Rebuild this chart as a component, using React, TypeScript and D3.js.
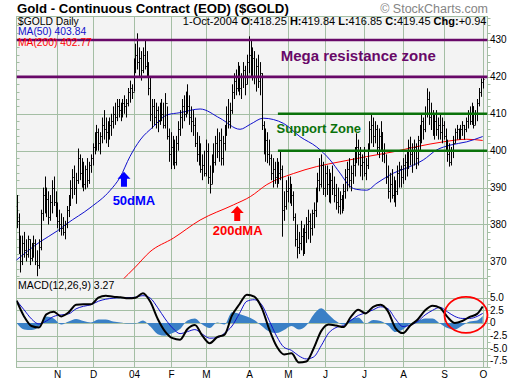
import React from 'react';
import * as d3 from 'd3';

// ---- data ----
const hi = [
  388,383,377,377,378,376,377,376,375,377,
  376,373,376,384,390,393,390,389,388,392,
  393,389,386,384,383,382,381,385,388,392,
  395,396,394,400.6,399,398,397,396,398,397,
  399,402,405,407,406,405,409,411,409,408,
  409,410,412,413,414,414,413,414,415,414,
  417,419,418,425,429,431.8,428,427,428,430,
  427,424,420,414,414,413,412,413,414,413,
  415.6,412,406,405,404,403,404,408,411,414,
  415,416,418,415,412,411,409,405,404,402,
  399,400,403,402,396,399,402,404,406,405,
  406,404,407,412,414,413,418,421,422,424,
  423,421,424,423,426,431,430,428,427,425,
  426,424,421,408,406,405,403,399,398,397,
  398,397,400,396,389,392,393,393,391,389,
  383,380,378,381,379,380,382,384,383,384,
  386,390,394,398,399,397,396,396,395,394,
  396,393,391,390,389,388,391,395,397,398,
  396,398,401,404.7,403,401,399,401,398,402,
  408,410,409,408,407,406,408,405,402,399,
  396,394,395,393,392,396,397,396,398,399,
  400,403,403.8,402,403,402,404,407,410,409,
  412,416.9,416,413,411,410,411,409,410,409,
  408,406,403,402,401,404,406,407,406,407,
  408,407,409,411,412,413,412,411,414,417,
  419.6,419.84,
];
const lo = [
  379,372,367,369,371,370,371,369,370,371,
  369,366,368,373,381,383,382,380,381,383,
  385,382,379,378,377,377,376,379,382,385,
  387,388,385.6,391,392,390,389,389.5,390,391,
  394,396,399,400,400,399,402,403,402,401,
  403,404,406,407,408,409,408,409,410,409,
  412,413,414,416,421,422,420,419,421,422,
  420,415,408,406,407,406,405,407,408,406,
  406,403,397,395,396,395,396,400,404,406,
  408,409,410,407,405,404,401,397,396,394,
  392,393,393,391,388.4,391,394,396,398,397,
  396,396,400,404,406,406,410,414,415,416,
  415,414,417,415,418,421,420,419,418,416,
  417,415,405.6,399,397,396.6,396,392,390,391,
  390,391,392,376.7,381,384,386,385.7,385,381,
  374,370.8,372,373,371.5,372,375,376,375,377,
  379,382,386,389,390,388,387.5,388,386,385.7,
  388,386,384,383,382.7,383,384,387,389,390,
  389,391,393,396.6,396,393,392,393,392,395,
  400,402,401,402,399,398,400,397,396.6,391,
  387,386,387,386,384.8,388,390,390,391,392,
  393,395,396,394,396,395,396,400,402,403,
  405,409,407,405.6,404,403,404,403,403,402,
  403,400,397,395.7,396,398,402,403,403,403,
  404,403,405,406,407,407,406,407,408,412,
  414.6,416.85,
];
const cl = [
  381,374,370,375,373,372,376,371,373,375,
  370,369,374,383,388,385,387,382,386,390,
  386,384,381,380,379,378,380,384,386,390,
  393,390,392,398,394,396,391,395,392,396,
  398,401,403,405,402,404,407,406,405,404,
  407,408,410,409,412,411,410,413,412,413,
  416,417,416,424,426,424,425,422,426,423,
  421,417,410,412,409,411,408,411,410,407,
  413,404,399,401,398,397,402,406,409,412,
  410,414,412,409,408,407,402,399,398,395,
  396,394,400,393,391,398,397,402,400,403,
  398,402,405,410,408,411,416,419,417,421,
  417,420,422,418,424,426,422,425,420,423,
  419,421,407,402,403,399,398,394,395,393,
  396,394,395,384,385,389,390,387,388,382,
  376,374,375,377,374,378,380,381,379,383,
  384,388,392,391,396,390,394,391,388,392,
  390,388,386,385,387,384,389,393,395,392,
  394,396,398,401,399,396,397,394,396,400,
  406,407,404,406,401,404,405,399,400,393,
  389,391,388,390,389,394,395,393,396,397,
  398,401,399,400,401,398,403,405,408,406,
  410,414,409,410,407,408,406,407,405,407,
  404,402,399,397,400,402,405,406,404,406,
  407,406,408,410,408,412,407,410,413,416,
  418.51,419.45,
];
const firstOpen = 385;

// moving averages: [bar index, value]
const ma50: [number, number][] = [
  [-1, 370], [12.6, 375.3], [22, 378.3], [27, 380.2], [39.5, 384.5], [50.3, 389.2],
  [55.7, 392.8], [61, 398.4], [66.5, 402.9], [73.6, 406.5], [81, 409.7], [88, 410.3],
  [98.8, 411.3], [109.5, 408.8], [120.3, 405.8], [126, 407.2], [132.8, 408.8],
  [143.7, 407.4], [152.6, 403.8], [161.6, 401], [168.8, 397.5], [174.2, 393.9],
  [179.6, 390.3], [183.2, 389.5], [188.5, 389.3], [194, 391.2], [202.9, 393.9],
  [211.9, 395.7], [219, 397.5], [226.2, 400.2], [233.4, 401.5], [242.4, 402.4],
  [251, 403.84],
];
const ma200: [number, number][] = [
  [56, 364.5], [64, 368.5], [71.8, 372.6], [84.4, 376.3], [98.8, 381.2], [116.7, 385.3],
  [126, 387.6], [134.7, 390.8], [149, 393.8], [161.6, 395.7], [174.2, 397],
  [188.5, 398.4], [202.9, 399.7], [215.5, 401.1], [229.8, 402.4], [242.4, 403.1],
  [251, 402.77],
];

// MACD (12,26,9), sampled every 4 bars plus the last bar
const macdIdx = [
  0,4,8,12,16,20,24,28,32,36,40,44,48,52,56,60,64,68,72,76,80,84,88,92,96,100,
  104,108,112,116,120,124,128,132,136,140,144,148,152,156,160,164,168,172,176,180,
  184,188,192,196,200,204,208,212,216,220,224,228,232,236,240,244,248,251,
];
const macdVals = [
  4.4,1.3,-0.6,-0.9,1.7,2.2,1.3,2.1,3.6,3.7,3.7,5.0,5.4,5.2,5.1,4.9,5.0,5.9,4.2,0.8,
  -1.7,-3.0,-3.3,-1.2,-0.4,-2.5,-4.0,-2.8,-2.3,1.5,3.7,5.6,5.2,3.0,-1.2,-4.6,-6.2,-6.0,
  -7.8,-7.6,-5.0,-1.6,-0.3,-0.5,-0.8,1.2,2.6,1.9,3.2,3.6,2.3,-1.0,-2.0,-0.5,0.7,2.5,
  3.4,3.0,1.2,0.0,0.4,1.2,1.8,3.27,
];
const signalVals = [
  4.4,2.6,0.8,-0.2,0.4,1.3,1.6,1.8,2.8,3.3,3.6,4.3,4.7,4.9,5.0,5.0,5.1,5.4,4.9,3.0,
  0.8,-1.0,-2.1,-1.7,-1.3,-2.2,-3.0,-2.9,-2.0,-0.6,1.9,4.3,4.6,3.6,0.5,-2.6,-4.8,-5.4,
  -6.5,-7.1,-6.7,-4.5,-2.0,-0.9,-0.5,0.5,1.5,2.0,2.6,3.2,2.8,0.8,-0.7,-0.4,0.3,1.6,
  2.5,3.1,2.2,1.3,0.9,0.9,1.3,1.9,
];

const monthLabels = ['N', 'D', '04', 'F', 'M', 'A', 'M', 'J', 'J', 'A', 'S', 'O'];
const monthBars = [22, 41, 63, 83, 102, 125, 146, 166, 187, 208, 230, 251];
const priceTicks = [370, 380, 390, 400, 410, 420, 430];
const macdTicks = [5, 2.5, 0, -2.5, -5, -7.5];
const macdTickLabels = ['5.0', '2.5', '0', '-2.5', '-5.0', '-7.5'];
const resistance = [420, 430];
const support = [400, 410];

const FONT = '"Liberation Sans", Arial, Helvetica, sans-serif';
const GRID = '#a4bea4';
const PURPLE = '#680868';
const GREEN = '#0a720a';

export default function App() {
  const L = 16.5, R = 487.5, T = 16.5, MB = 278.5, B = 367.5;
  const x = d3.scaleLinear().domain([0, 251]).range([16.65, 482.7]);
  const y = d3.scaleLinear().domain([365.5, 436.5]).range([278, 16]);
  const m = d3.scaleLinear().domain([-8.79, 8.69]).range([367.5, 279]);
  const px = (i: number) => Math.round(x(i)) + 0.5;

  // price bars
  let barPath = '';
  cl.forEach((c, i) => {
    const o = i === 0 ? firstOpen : cl[i - 1];
    const xx = px(i);
    barPath += `M${xx},${y(hi[i]).toFixed(1)}V${y(lo[i]).toFixed(1)}`;
    barPath += `M${xx - 1},${Math.round(y(o)) + 0.5}H${xx}`;
    barPath += `M${xx},${Math.round(y(c)) + 0.5}H${xx + 1}`;
  });

  const maLine = d3.line<[number, number]>().x(d => x(d[0])).y(d => y(d[1])).curve(d3.curveMonotoneX);
  const macdData = macdIdx.map((i, k) => ({ i, v: macdVals[k], s: signalVals[k] }));
  const macdLine = d3.line<any>().x(d => x(d.i)).y(d => m(d.v)).curve(d3.curveMonotoneX);
  const sigLine = d3.line<any>().x(d => x(d.i)).y(d => m(d.s)).curve(d3.curveMonotoneX);
  const histArea = d3.area<any>().x(d => x(d.i)).y0(m(0)).y1(d => m(d.v - d.s)).curve(d3.curveMonotoneX);

  const minorPrice = d3.range(366, 437, 2);
  const minorMacd = d3.range(-8.75, 8.7, 1.25);

  const arrow = (i: number, p: number, color: string) => {
    const cx = x(i), ty = y(p);
    const d = `M${cx},${ty} L${cx + 6.5},${ty + 7} L${cx + 3},${ty + 7} L${cx + 3},${ty + 15} L${cx - 3},${ty + 15} L${cx - 3},${ty + 7} L${cx - 6.5},${ty + 7} Z`;
    return <path d={d} fill={color} />;
  };

  return (
    <svg width={520} height={384} style={{ position: 'absolute', left: 0, top: 0, background: '#fff' }} fontFamily={FONT}>
      <defs>
        <clipPath id="mainClip"><rect x={L} y={T} width={R - L} height={MB - T} /></clipPath>
        <clipPath id="macdClip"><rect x={L} y={MB} width={R - L} height={B - MB} /></clipPath>
      </defs>
      {/* title */}
      <text x={17} y={12.5} fontSize={13.2} fontWeight="bold" fill="#000">Gold - Continuous Contract (EOD) ($GOLD)</text>
      <text x={488} y={12.5} fontSize={12.5} fill="#858585" textAnchor="end">© StockCharts.com</text>

      {/* panels */}
      <rect x={L} y={T} width={R - L} height={MB - T} fill="#f3f3f3" stroke={GRID} />
      <rect x={L} y={MB} width={R - L} height={B - MB} fill="#f3f3f3" stroke={GRID} />

      {/* grid */}
      {priceTicks.map(p => <line key={'gp' + p} x1={L} x2={R} y1={Math.round(y(p)) + 0.5} y2={Math.round(y(p)) + 0.5} stroke={GRID} />)}
      {macdTicks.map(v => <line key={'gm' + v} x1={L} x2={R} y1={Math.round(m(v)) + 0.5} y2={Math.round(m(v)) + 0.5} stroke={GRID} />)}
      {monthBars.map((b, k) => (
        <g key={'mb' + k}>
          <line x1={px(b)} x2={px(b)} y1={T} y2={MB} stroke={GRID} />
          <line x1={px(b)} x2={px(b)} y1={MB} y2={B} stroke={GRID} />
          <text x={px(b)} y={378} fontSize={10} textAnchor="middle" fill="#000">{monthLabels[k]}</text>
        </g>
      ))}

      {/* minor ticks */}
      {minorPrice.map(p => (
        <g key={'mt' + p}>
          <line x1={L} x2={L + 3} y1={Math.round(y(p)) + 0.5} y2={Math.round(y(p)) + 0.5} stroke={GRID} />
          <line x1={R} x2={R + 3} y1={Math.round(y(p)) + 0.5} y2={Math.round(y(p)) + 0.5} stroke={GRID} />
        </g>
      ))}
      {minorMacd.map(v => (
        <line key={'mm' + v} x1={R} x2={R + 3} y1={Math.round(m(v)) + 0.5} y2={Math.round(m(v)) + 0.5} stroke={GRID} />
      ))}

      {/* axis labels */}
      {priceTicks.map(p => (
        <text key={'pl' + p} x={490} y={y(p) + 3.5} fontSize={10} fill="#000">{p}</text>
      ))}
      {macdTicks.map((v, k) => (
        <text key={'ml' + v} x={490} y={m(v) + 3.5} fontSize={10} fill="#000">{macdTickLabels[k]}</text>
      ))}

      {/* price bars and MAs */}
      <g clipPath="url(#mainClip)">
        <path d={maLine(ma200) || ''} fill="none" stroke="#ff0000" strokeWidth={1} />
        <path d={maLine(ma50) || ''} fill="none" stroke="#1010cc" strokeWidth={1} />
        <path d={barPath} fill="none" stroke="#000" strokeWidth={1} />
        {resistance.map(p => <line key={'r' + p} x1={L} x2={R + 2} y1={y(p)} y2={y(p)} stroke={PURPLE} strokeWidth={2.6} />)}
        {support.map(p => <line key={'s' + p} x1={x(140.7)} x2={R} y1={y(p)} y2={y(p)} stroke={GREEN} strokeWidth={2.6} />)}
      </g>

      {/* header texts inside panel */}
      <text x={18} y={24.5} fontSize={10.3} fill="#000">$GOLD Daily</text>
      <text x={18} y={35} fontSize={10.3} fill="#1010cc">MA(50) 403.84</text>
      <text x={18} y={46} fontSize={10.3} fill="#ff0000">MA(200) 402.77</text>
      <text x={486.5} y={24.5} fontSize={11} fill="#000" textAnchor="end">
        1-Oct-2004 <tspan fontWeight="bold">O:</tspan>418.25 <tspan fontWeight="bold">H:</tspan>419.84 <tspan fontWeight="bold">L:</tspan>416.85 <tspan fontWeight="bold">C:</tspan>419.45 <tspan fontWeight="bold">Chg:</tspan>+0.94
      </text>

      {/* annotations */}
      <text x={x(142.2)} y={y(424.2)} fontSize={15} fontWeight="bold" fill={PURPLE}>Mega resistance zone</text>
      <text x={x(140)} y={y(404.7)} fontSize={13} fontWeight="bold" fill={GREEN}>Support Zone</text>
      {arrow(57.8, 394.3, '#0000ff')}
      <text x={x(51.7)} y={y(385.4)} fontSize={13} fontWeight="bold" fill="#0000ff">50dMA</text>
      {arrow(118.8, 385, '#ff0000')}
      <text x={x(105.6)} y={y(377.2)} fontSize={13} fontWeight="bold" fill="#ff0000">200dMA</text>

      {/* MACD */}
      <g clipPath="url(#macdClip)">
        <path d={histArea(macdData) || ''} fill="#3a80c6" />
        <path d={sigLine(macdData) || ''} fill="none" stroke="#1010cc" strokeWidth={1} />
        <path d={macdLine(macdData) || ''} fill="none" stroke="#000" strokeWidth={2} />
      </g>
      <text x={18} y={288.5} fontSize={10.5} fill="#000">MACD(12,26,9) 3.27</text>
      <ellipse cx={x(242)} cy={m(1.6)} rx={21.5} ry={18} fill="none" stroke="#ff0000" strokeWidth={1.8} />
    </svg>
  );
}
